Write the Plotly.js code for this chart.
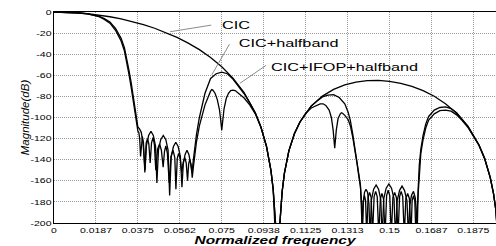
<!DOCTYPE html>
<html>
<head>
<meta charset="utf-8">
<script src="https://cdn.plot.ly/plotly-3.0.1.min.js"></script>
<style>
  html, body { margin: 0; padding: 0; background: #fff; overflow: hidden; }
  #chart { width: 496px; height: 246px; }
</style>
</head>
<body>
<div id="chart"></div>
<script>
// ---- data ----
const freqCic = [0, 0.005, 0.01, 0.015, 0.02, 0.025, 0.03, 0.035, 0.04, 0.045,
  0.05, 0.055, 0.06, 0.065, 0.07, 0.075, 0.08, 0.085, 0.09, 0.0925,
  0.095, 0.097, 0.098, 0.099, 0.0995, 0.1, 0.1005, 0.101, 0.102, 0.103,
  0.105, 0.1075, 0.11, 0.115, 0.12, 0.125, 0.13, 0.135, 0.14, 0.145,
  0.15, 0.155, 0.16, 0.165, 0.17, 0.175, 0.18, 0.185, 0.19, 0.1925,
  0.195, 0.1965, 0.1975, 0.2];
const magCic = [0, -0.2, -0.7, -1.6, -2.9, -4.5, -6.6, -9.0, -12.0, -15.4,
  -19.4, -24.1, -29.5, -35.7, -43.1, -51.9, -62.7, -76.4, -95.6, -108.9,
  -127.4, -150.4, -168.4, -198.9, -234, -260, -234, -199.7, -170.1, -152.9,
  -131.6, -115.2, -104.0, -89.1, -79.7, -73.3, -69.1, -66.5, -65.1, -64.9,
  -65.7, -67.6, -70.5, -74.5, -79.9, -86.9, -96.0, -108.2, -126.0, -138.7,
  -156.5, -172.2, -187.0, -260];

const freqHalfband = [0, 0.005, 0.01, 0.015, 0.018, 0.02, 0.0225, 0.025, 0.0275, 0.03, 0.0315, 0.0325, 0.0335, 0.0345, 0.0355, 0.0363, 0.037, 0.0375,
  0.0383, 0.039, 0.0398, 0.0407,
  0.0413, 0.0423, 0.04335, 0.0444, 0.0454, 0.046,
  0.0467, 0.0477, 0.04885, 0.05, 0.051, 0.0517,
  0.0524, 0.0534, 0.05445, 0.0555, 0.0565, 0.0572,
  0.0578, 0.0586, 0.05945, 0.0603, 0.0611, 0.0617,
  0.0622, 0.0629, 0.0637, 0.065, 0.0666, 0.0675, 0.07, 0.0725, 0.075, 0.0775,
  0.08, 0.0825, 0.085, 0.0875, 0.09, 0.0925, 0.095, 0.097, 0.098, 0.099,
  0.0995, 0.1, 0.1005, 0.101, 0.102, 0.103, 0.105, 0.1075, 0.11, 0.115,
  0.1175, 0.12, 0.1225, 0.125, 0.1275, 0.13, 0.1315, 0.1325, 0.1335, 0.1345,
  0.1355, 0.1363, 0.137, 0.1374, 0.1378,
  0.1382, 0.1388, 0.1395, 0.1402, 0.1408, 0.1413,
  0.1419, 0.1429, 0.144, 0.1451, 0.1461, 0.1467,
  0.1474, 0.1485, 0.1497, 0.1509, 0.152, 0.1527,
  0.1534, 0.1545, 0.1556, 0.1567, 0.1578, 0.1585,
  0.159, 0.1598, 0.1607, 0.1615, 0.162, 0.1624,
  0.1628, 0.1633, 0.164, 0.165, 0.1662, 0.1675, 0.17, 0.1725, 0.175, 0.1775,
  0.18, 0.1825, 0.185, 0.19, 0.1925, 0.195, 0.1965, 0.1975, 0.2];
const magHalfband = [0, -0.2, -0.7, -1.7, -2.8, -3.9, -6.2, -9.5, -15.5, -25, -34, -43, -55, -67, -80, -93, -103, -109,
  -111, -114, -124, -150,
  -127, -117, -113, -117, -127, -162,
  -131, -121, -117, -121, -131, -174,
  -137, -127.5, -123.5, -127.5, -137, -166,
  -144, -135, -131, -135, -144, -152,
  -142, -128, -116, -100, -84, -77, -63, -58.5, -57, -58.5,
  -63.5, -70.5, -77.5, -86, -95.8, -109, -127.4, -150.4, -168.4, -198.9,
  -234, -260, -234, -199.7, -170.1, -152.9, -131.6, -115.2, -104, -89.2,
  -84.5, -80.5, -78.8, -78.3, -81, -87, -95, -103, -115, -128,
  -142, -154, -164, -185, -210,
  -182, -171, -168, -171, -182, -215,
  -178, -168, -164, -168, -178, -215,
  -177, -167, -163, -167, -177, -215,
  -179, -169, -165, -169, -179, -215,
  -184, -174, -170, -176, -190, -208,
  -168, -145, -130, -117, -106, -99, -93, -90.5, -90, -91.5,
  -95.5, -101.5, -108.2, -126, -138.7, -156.5, -172.2, -187, -260];

const freqIfop = [0, 0.005, 0.01, 0.015, 0.018, 0.02, 0.0225, 0.025, 0.0275, 0.03, 0.0315, 0.0325, 0.0335, 0.0345, 0.0355, 0.0363, 0.037,
  0.0375, 0.0379, 0.0383, 0.0387, 0.0391, 0.0395, 0.04, 0.0406, 0.0412, 0.0418,
  0.0424, 0.043, 0.0436, 0.0443, 0.0449, 0.0455, 0.0463, 0.0472, 0.048, 0.0488,
  0.0494, 0.05, 0.0507, 0.0515, 0.0523, 0.0532, 0.054, 0.0545, 0.0551, 0.0557,
  0.0564, 0.0571, 0.0578, 0.0585, 0.0591, 0.0597, 0.0602, 0.0607, 0.0613, 0.0618, 0.0623,
  0.0629, 0.0637, 0.065, 0.0666, 0.0675, 0.07, 0.0705, 0.071, 0.072, 0.073,
  0.074, 0.0745, 0.075, 0.0755, 0.076, 0.077, 0.078, 0.079, 0.08, 0.081,
  0.0825, 0.085, 0.0875, 0.09, 0.0925, 0.095, 0.097, 0.098, 0.099, 0.0995,
  0.1, 0.1005, 0.101, 0.102, 0.103, 0.105, 0.1075, 0.11, 0.1125, 0.115,
  0.1175, 0.119, 0.1203, 0.1215, 0.123, 0.124, 0.1248, 0.1255, 0.1262, 0.127,
  0.128, 0.1285, 0.129, 0.13, 0.1315, 0.1325, 0.1335, 0.1345, 0.1355, 0.1363,
  0.137, 0.1375, 0.1378,
  0.1383, 0.1388, 0.1393, 0.1398, 0.1404, 0.1411, 0.1418, 0.1424, 0.1431, 0.1438,
  0.1445, 0.1452, 0.1459, 0.1466, 0.1473, 0.148, 0.1487, 0.1494, 0.1501, 0.1508,
  0.1515, 0.1523, 0.1531, 0.1538, 0.1545, 0.1552, 0.1559, 0.1566, 0.1573, 0.1581,
  0.1589, 0.1596, 0.1601, 0.1607, 0.1613, 0.1618, 0.1624,
  0.1628, 0.1633, 0.164, 0.165, 0.1662, 0.1675, 0.17, 0.1725, 0.175, 0.1775,
  0.18, 0.1825, 0.185, 0.19, 0.1925, 0.195, 0.1965, 0.1975, 0.2];
const magIfop = [0, -0.2, -0.7, -1.8, -3.0, -4.3, -7, -10.6, -17.3, -27.5, -37, -46.5, -59, -71.5, -85, -98, -108,
  -113, -114, -120, -137, -122, -118, -124, -152, -124, -120,
  -125, -143, -124, -119, -126, -150, -130, -125, -131, -147,
  -132, -127, -134, -162, -137, -131, -138, -168, -139, -134,
  -139, -152, -142, -138, -143, -160, -144, -140, -145, -157, -147,
  -134, -123, -108, -95, -88, -75, -73.5, -74, -77, -83,
  -93, -102, -112, -102, -92, -82, -77, -74.5, -74, -74.5,
  -77, -81.5, -88, -96.5, -109.3, -127.5, -150.4, -168.4, -198.9, -234,
  -260, -234, -199.7, -170.1, -152.9, -131.6, -115.3, -104.3, -96, -91,
  -88, -87, -87, -88.5, -93, -100, -112, -129, -112, -101,
  -96.5, -95.5, -96, -98, -102, -108, -118, -130, -144, -156,
  -166, -180, -210,
  -179, -174, -179, -212, -176, -171, -176, -212, -175, -170,
  -175, -212, -177, -172, -177, -212, -174, -169, -174, -212,
  -176, -171, -176, -212, -175, -170, -175, -212, -177, -172,
  -177, -212, -179, -174, -179, -212, -185,
  -170, -150, -134, -121, -110, -102.5, -96.5, -93.5, -93, -94,
  -97.5, -103, -109.2, -126.5, -139, -157, -172.5, -187.3, -260];

const xTickVals = [0, 0.01875, 0.0375, 0.05625, 0.075, 0.09375, 0.1125, 0.13125, 0.15, 0.16875, 0.1875];
const xTickLabels = ['0', '0.0187', '0.0375', '0.0562', '0.075', '0.0938', '0.1125', '0.1313', '0.15', '0.1687', '0.1875'];
const yTickVals = [0, -20, -40, -60, -80, -100, -120, -140, -160, -180, -200];
const yTickLabels = ['0', '-20', '-40', '-60', '-80', '-100', '-120', '-140', '-160', '-180', '-200'];
const seriesNames = ['CIC', 'CIC+halfband', 'CIC+IFOP+halfband'];

// ---- chart ----
const lineStyle = {color: '#000', width: 1.3};
const data = [
  {x: freqCic, y: magCic, name: seriesNames[0], type: 'scatter', mode: 'lines', line: lineStyle},
  {x: freqHalfband, y: magHalfband, name: seriesNames[1], type: 'scatter', mode: 'lines', line: lineStyle},
  {x: freqIfop, y: magIfop, name: seriesNames[2], type: 'scatter', mode: 'lines', line: lineStyle}
];

const labelFont = {family: 'Liberation Sans, Arial, sans-serif', size: 11.6, color: '#000'};
const leader = {showarrow: true, arrowhead: 0, arrowwidth: 1, arrowcolor: '#8c8c8c', text: ' ',
  font: {size: 1}, standoff: 0, startstandoff: 0, borderpad: 0};

const layout = {
  width: 496, height: 246,
  margin: {l: 54, r: 0, t: 12, b: 23},
  paper_bgcolor: '#fff', plot_bgcolor: '#fff',
  showlegend: false,
  font: {family: 'Liberation Sans, Arial, sans-serif', color: '#000'},
  xaxis: {
    range: [0, 0.1976], tickvals: xTickVals, ticktext: xTickLabels,
    ticks: '', showgrid: true, gridcolor: '#9a9a9a', griddash: '1px,1px', gridwidth: 1,
    showline: true, linecolor: '#000', linewidth: 1, mirror: true, zeroline: false,
    tickfont: {size: 7.5, color: '#000'},
    title: {text: 'Normalized frequency', font: {size: 11, weight: 'bold', style: 'italic', color: '#000'}, standoff: 2},
    automargin: false
  },
  yaxis: {
    range: [-200, 0], tickvals: yTickVals, ticktext: yTickLabels,
    ticks: '', showgrid: true, gridcolor: '#9a9a9a', griddash: '1px,1px', gridwidth: 1,
    showline: true, linecolor: '#000', linewidth: 1, mirror: false, zeroline: false,
    tickfont: {size: 7.5, color: '#000'},
    title: {text: 'Magnitude(dB)', font: {size: 11.5, style: 'italic', color: '#000'}, standoff: 4},
    automargin: false
  },
  annotations: [
    {x: 0.0812, y: -11.4, text: seriesNames[0], showarrow: false, font: labelFont},
    {x: 0.1049, y: -28.9, text: seriesNames[1], showarrow: false, font: labelFont},
    {x: 0.1298, y: -51.2, text: seriesNames[2], showarrow: false, font: labelFont},
    Object.assign({x: 0.0519, y: -18.7, ax: 41.7, ay: -6.7}, leader),
    Object.assign({x: 0.0705, y: -59.7, ax: 18.3, ay: -31.7}, leader),
    Object.assign({x: 0.0831, y: -67.6, ax: 26.7, ay: -18.3}, leader)
  ]
};

const gd = document.getElementById('chart');
Plotly.newPlot(gd, data, layout, {staticPlot: true, displayModeBar: false}).then(function () {
  // the reference figure is horizontally stretched: widen the glyphs to match
  const sx = 1.4;
  gd.querySelectorAll('.xtick text, .ytick text, .annotation-text, .xtitle').forEach(function (t) {
    const L = t.getComputedTextLength();
    if (L > 0) {
      t.setAttribute('textLength', (L * sx).toFixed(1));
      t.setAttribute('lengthAdjust', 'spacingAndGlyphs');
    }
  });
});
</script>
</body>
</html>
